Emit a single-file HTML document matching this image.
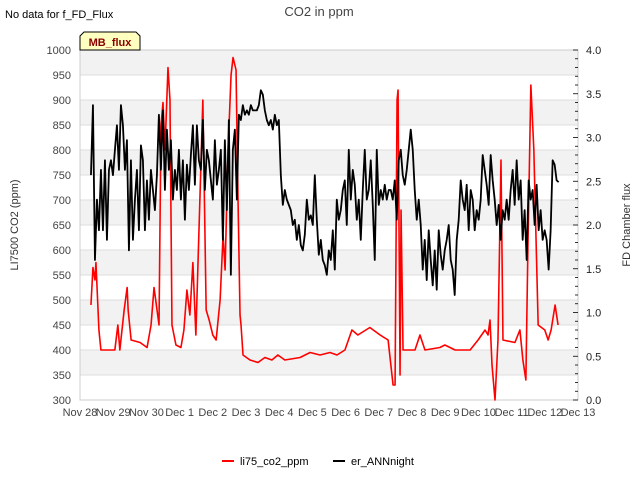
<!DOCTYPE html>
<html><head><meta charset="utf-8"><style>
body{margin:0;background:#fff;}
svg{font-family:"Liberation Sans","DejaVu Sans",sans-serif;}
</style></head><body>
<svg id="chart" width="640" height="480" viewBox="0 0 640 480">
<text x="5" y="18" font-size="11" fill="#000">No data for f_FD_Flux</text>
<text x="319" y="16" font-size="13" fill="#444" text-anchor="middle">CO2 in ppm</text>
<g id="bands"></g><g id="grid"></g><g id="axes"></g>
<g id="series"></g>
<g>
<path d="M80,50 L80,36 L84,32 L136,32 L140,36 L140,50 Z" fill="#ffffc0" stroke="#000" stroke-width="1"/>
<text x="110" y="46" font-size="11" font-weight="bold" fill="#8b0000" text-anchor="middle">MB_flux</text>
</g>
<text x="18" y="225" font-size="11" fill="#333" text-anchor="middle" transform="rotate(-90 18 225)">LI7500 CO2 (ppm)</text>
<text x="630" y="225" font-size="11" fill="#333" text-anchor="middle" transform="rotate(-90 630 225)">FD Chamber flux</text>
<g>
<line x1="222" y1="461" x2="234" y2="461" stroke="#f00" stroke-width="2"/>
<text x="240" y="465" font-size="11" fill="#000">li75_co2_ppm</text>
<line x1="333" y1="461" x2="345" y2="461" stroke="#000" stroke-width="2"/>
<text x="351" y="465" font-size="11" fill="#000">er_ANNnight</text>
</g>
</svg>
<script>
const xTickLabels=["Nov 28","Nov 29","Nov 30","Dec 1","Dec 2","Dec 3","Dec 4","Dec 5","Dec 6","Dec 7","Dec 8","Dec 9","Dec 10","Dec 11","Dec 12","Dec 13"];
const leftTicks=[300,350,400,450,500,550,600,650,700,750,800,850,900,950,1000];
const rightTicks=[0,0.5,1,1.5,2,2.5,3,3.5,4];
const redDays=[0.33,0.39,0.45,0.48,0.57,0.63,1.05,1.14,1.2,1.33,1.42,1.45,1.54,1.81,2.02,2.14,2.23,2.32,2.38,2.44,2.5,2.56,2.65,2.71,2.77,2.89,3.04,3.13,3.22,3.31,3.4,3.49,3.7,3.8,3.89,4.0,4.1,4.22,4.31,4.37,4.46,4.55,4.61,4.7,4.76,4.82,4.85,4.91,5.12,5.36,5.57,5.78,5.96,6.17,6.63,6.93,7.23,7.53,7.74,7.98,8.19,8.37,8.73,9.04,9.28,9.43,9.49,9.55,9.58,9.64,9.67,9.73,10.09,10.24,10.39,10.84,10.99,11.3,11.75,11.99,12.2,12.29,12.35,12.41,12.5,12.59,12.68,12.74,13.1,13.25,13.34,13.43,13.49,13.58,13.67,13.8,14.0,14.1,14.19,14.31,14.4];
const redPpm=[490,565,540,575,440,400,400,450,400,480,525,480,420,415,405,450,525,480,450,850,895,800,965,900,450,410,405,440,520,470,575,430,900,480,460,430,420,500,630,560,800,950,985,960,700,470,450,390,380,375,385,380,390,380,385,395,390,395,390,400,440,430,445,430,420,330,330,900,920,350,680,400,400,430,400,405,410,400,400,420,440,430,460,370,300,420,780,420,415,440,380,340,600,930,800,450,440,420,440,490,450];
const blackStartDay=0.33;
const blackStepDays=0.0602;
const blackFlux=[2.57,3.37,1.6,2.29,1.94,2.63,1.94,2.74,1.83,2.63,2.74,2.57,2.86,3.14,2.63,3.37,3.14,2.63,2.97,1.71,2.74,1.83,2.29,2.63,1.94,2.91,2.74,1.94,2.51,2.06,2.63,2.4,2.17,2.57,3.26,2.63,3.31,2.4,3.09,2.63,2.97,2.29,2.63,2.4,2.86,2.29,2.74,2.06,2.69,2.4,2.8,3.14,2.46,3.14,2.74,2.63,3.2,2.4,2.86,2.74,2.51,2.29,2.97,2.46,2.63,2.86,1.83,2.97,2.17,3.2,1.43,2.86,3.09,2.29,3.26,3.2,3.37,3.26,3.31,3.26,3.37,3.31,3.31,3.31,3.37,3.54,3.49,3.31,3.2,3.14,3.2,3.09,3.26,3.14,3.2,2.57,2.23,2.4,2.29,2.23,2.17,2.0,2.06,1.83,2.0,1.77,1.71,1.89,2.29,2.06,2.11,2.0,2.57,2.06,1.66,1.83,1.6,1.54,1.43,1.71,1.6,1.94,1.49,2.29,2.06,2.17,2.4,2.51,2.0,2.86,2.29,2.63,2.46,2.06,2.29,1.83,2.4,2.86,2.29,2.4,2.74,2.23,1.6,2.86,2.23,2.4,2.29,2.46,2.29,2.4,2.4,2.29,2.51,2.06,2.74,2.86,2.57,2.46,2.63,2.86,3.09,2.86,2.4,2.06,2.29,2.0,1.49,1.83,1.37,1.94,1.6,1.31,1.71,1.26,1.94,1.66,1.49,1.71,1.83,2.0,1.6,1.49,1.2,1.83,2.06,2.51,2.29,2.17,2.46,1.94,2.4,2.29,1.94,2.17,2.06,2.29,2.8,2.63,2.46,2.23,2.8,2.51,2.29,2.0,2.23,1.83,2.17,2.06,2.29,2.06,2.4,2.63,2.23,2.74,2.29,2.51,1.83,2.17,1.6,2.51,2.29,2.4,2.0,2.46,1.94,2.17,1.83,1.94,1.83,1.49,1.94,2.74,2.69,2.51,2.49];
const X0=80,X1=578,Y0=400,Y1=50;
const xs=d=>X0+d*(X1-X0)/15;
const yL=v=>Y0-(v-300)*(Y0-Y1)/700;
const yR=v=>Y0-v*(Y0-Y1)/4;
const NS="http://www.w3.org/2000/svg";
function mk(tag,attrs,parent){const e=document.createElementNS(NS,tag);for(const k in attrs)e.setAttribute(k,attrs[k]);document.getElementById(parent).appendChild(e);return e;}
for(let i=0;i<leftTicks.length-1;i++){
 const top=leftTicks[leftTicks.length-1-i];
 if(i%2===0){const r=mk('rect',{x:X0,y:yL(top),width:X1-X0,height:yL(top-50)-yL(top),fill:'#f2f2f2'},'bands');
 
 }
}
leftTicks.forEach(v=>{
 const l=mk('line',{x1:X0,x2:X1,y1:yL(v),y2:yL(v),stroke:'#ddd','stroke-width':1},'grid');
 
 
 const t=mk('text',{x:X0-9,y:yL(v)+4,'font-size':11,fill:'#444','text-anchor':'end'},'axes');
 t.textContent=v;
 
 
});
const fr=mk('rect',{x:X0,y:Y1,width:X1-X0,height:Y0-Y1,fill:'none',stroke:'#ccc'},'axes');


rightTicks.forEach(v=>{
 const t=mk('text',{x:X1+8,y:yR(v)+4,'font-size':11,fill:'#222'},'axes');
 t.textContent=v.toFixed(1);
 
 
});
for(let v=0;v<=4.001;v+=0.1){mk('line',{x1:X1,x2:X1-(Math.abs(v*2-Math.round(v*2))<0.01?5:3),y1:yR(v),y2:yR(v),stroke:'#000','stroke-width':0.8},'axes');}
xTickLabels.forEach((s,i)=>{
 const t=mk('text',{x:xs(i),y:Y0+16,'font-size':11,fill:'#444','text-anchor':'middle'},'axes');
 t.textContent=s;
 
 
});
const rp=mk('polyline',{points:redDays.map((d,i)=>xs(d)+','+yL(redPpm[i])).join(' '),fill:'none',stroke:'#f00','stroke-width':1.6,'stroke-linejoin':'round'},'series');


const bp=mk('polyline',{points:blackFlux.map((v,i)=>xs(blackStartDay+i*blackStepDays)+','+yR(v)).join(' '),fill:'none',stroke:'#000','stroke-width':1.8,'stroke-linejoin':'round'},'series');


</script>
</body></html>
